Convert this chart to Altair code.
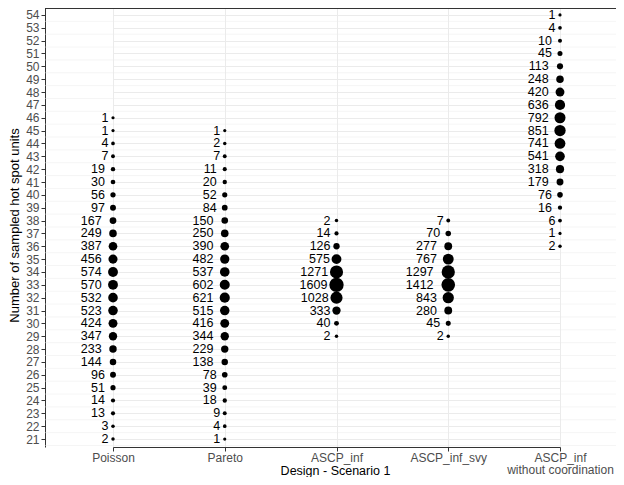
import altair as alt
import pandas as pd

designs = ["Poisson", "Pareto", "ASCP_inf", "ASCP_inf_svy", "ASCP_inf|without coordination"]

poisson_units = [46, 45, 44, 43, 42, 41, 40, 39, 38, 37, 36, 35, 34, 33, 32, 31, 30, 29, 28, 27, 26, 25, 24, 23, 22, 21]
poisson_counts = [1, 1, 4, 7, 19, 30, 56, 97, 167, 249, 387, 456, 574, 570, 532, 523, 424, 347, 233, 144, 96, 51, 14, 13, 3, 2]

pareto_units = [45, 44, 43, 42, 41, 40, 39, 38, 37, 36, 35, 34, 33, 32, 31, 30, 29, 28, 27, 26, 25, 24, 23, 22, 21]
pareto_counts = [1, 2, 7, 11, 20, 52, 84, 150, 250, 390, 482, 537, 602, 621, 515, 416, 344, 229, 138, 78, 39, 18, 9, 4, 1]

ascp_units = [38, 37, 36, 35, 34, 33, 32, 31, 30, 29]
ascp_counts = [2, 14, 126, 575, 1271, 1609, 1028, 333, 40, 2]

svy_units = [38, 37, 36, 35, 34, 33, 32, 31, 30, 29]
svy_counts = [7, 70, 277, 767, 1297, 1412, 843, 280, 45, 2]

nocoord_units = [54, 53, 52, 51, 50, 49, 48, 47, 46, 45, 44, 43, 42, 41, 40, 39, 38, 37, 36]
nocoord_counts = [1, 4, 10, 45, 113, 248, 420, 636, 792, 851, 741, 541, 318, 179, 76, 16, 6, 1, 2]

y_ticks = [21, 22, 23, 24, 25, 26, 27, 28, 29, 30, 31, 32, 33, 34, 35, 36, 37,
           38, 39, 40, 41, 42, 43, 44, 45, 46, 47, 48, 49, 50, 51, 52, 53, 54]
minor_breaks = [20.5] + [t + 0.5 for t in y_ticks]

rows = []
for d, units, counts in [
    (designs[0], poisson_units, poisson_counts),
    (designs[1], pareto_units, pareto_counts),
    (designs[2], ascp_units, ascp_counts),
    (designs[3], svy_units, svy_counts),
    (designs[4], nocoord_units, nocoord_counts),
]:
    for u, c in zip(units, counts):
        rows.append({"design": d, "units": u, "n": c})
df = pd.DataFrame(rows)

FONT = "Liberation Sans"
W, H = 571, 439

x_scale = alt.Scale(type="point", domain=designs, range=[68, 515], padding=0)
y_scale = alt.Scale(domain=[20.38, 54.54], nice=False, zero=False)

y_axis = alt.Axis(
    values=y_ticks, format="d", title="Number of sampled hot spot units",
    titleFont=FONT, titleFontSize=13, titleFontWeight="normal", titleColor="black",
    titleX=-31, titleY=217, titleAngle=270, titleAlign="center", titleBaseline="middle",
    labelFont=FONT, labelFontSize=12, labelColor="#4D4D4D", labelPadding=2,
    tickSize=4, tickColor="#333333", domainColor="#333333", domainWidth=1,
    grid=True, gridColor="#EBEBEB", gridWidth=1,
)
x_axis = alt.Axis(
    title="Design - Scenario 1", labelExpr="split(datum.label, '|')", labelAngle=0,
    labelFont=FONT, labelFontSize=12, labelColor="#4D4D4D", labelLineHeight=12.5,
    labelPadding=1, labelBaseline="top",
    titleFont=FONT, titleFontSize=12.5, titleFontWeight="normal", titleColor="black",
    titleX=290, titleY=30, titleAlign="center", titleBaseline="bottom",
    tickSize=4, tickColor="#333333", domainColor="#333333", domainWidth=1,
    grid=True, gridColor="#EBEBEB", gridWidth=1,
)

minor = alt.Chart(pd.DataFrame({"v": minor_breaks})).mark_rule(
    color="#EBEBEB", strokeWidth=0.5
).encode(y=alt.Y("v:Q", scale=y_scale, axis=y_axis))

top_border = alt.Chart(pd.DataFrame({"a": [0]})).mark_rule(
    color="#333333", strokeWidth=1
).encode(x=alt.value(0), x2=alt.value(W), y=alt.value(0.5))

base = alt.Chart(df).transform_joinaggregate(
    nmax="max(n)", nmin="min(n)"
).transform_calculate(
    dia="3.6 + 12.6 * sqrt((datum.n - datum.nmin) / (datum.nmax - datum.nmin))",
    area="PI * datum.dia * datum.dia / 4",
    len="length(toString(datum.n))",
    off="datum.design === 'ASCP_inf' ? -max(6, datum.dia / 2 + 1) : -(1.3 + 3.35 * datum.len)",
)

dots = base.mark_circle(color="black", opacity=1).encode(
    x=alt.X("design:N", scale=x_scale, axis=x_axis, sort=designs),
    y=alt.Y("units:Q", scale=y_scale, axis=y_axis),
    size=alt.Size("area:Q", scale=None, legend=None),
)

labels = base.mark_text(
    align="right", baseline="middle", font=FONT, fontSize=12.5, color="black"
).encode(
    x=alt.X("design:N", scale=x_scale, axis=x_axis, sort=designs),
    y=alt.Y("units:Q", scale=y_scale, axis=y_axis),
    xOffset=alt.XOffset("off:Q", scale=None),
    text=alt.Text("n:Q", format="d"),
)

chart = alt.layer(minor, dots, labels, top_border).properties(
    width=W, height=H,
    autosize=alt.AutoSizeParams(type="none"),
    padding={"left": 37, "top": 0, "right": 0, "bottom": 30},
    background="white",
).configure_view(stroke=None)

chart.save("out.html", embed_options={"renderer": "svg", "actions": False})
